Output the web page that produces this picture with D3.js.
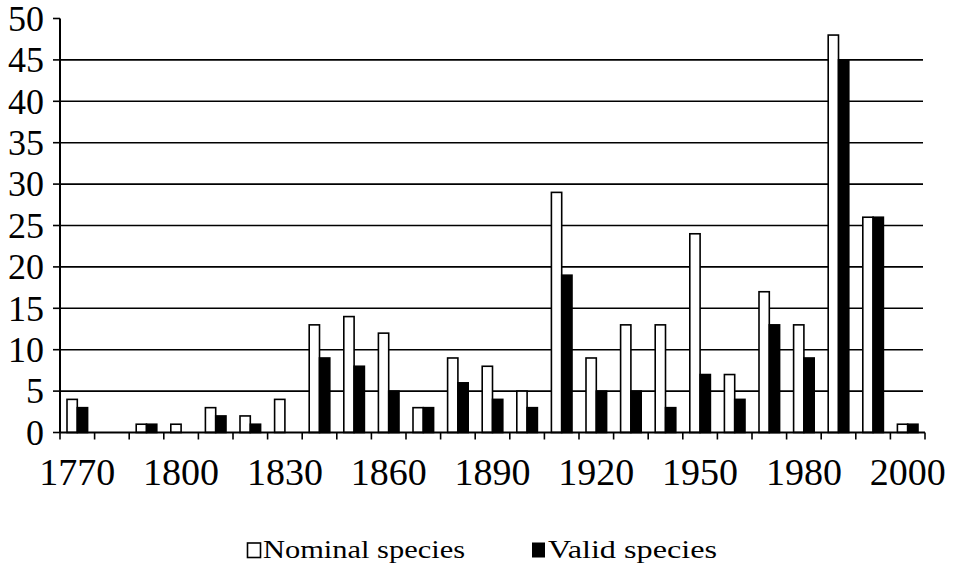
<!DOCTYPE html>
<html><head><meta charset="utf-8"><script src="https://cdn.jsdelivr.net/npm/d3@7"></script></head>
<body style="margin:0">
<svg id="s" width="955" height="569"></svg>
<script>
const categories = ["1770","1780","1790","1800","1810","1820","1830","1840","1850","1860","1870","1880","1890","1900","1910","1920","1930","1940","1950","1960","1970","1980","1990","1995","2000"];
const nominal = [4,0,1,1,3,2,4,13,14,12,3,9,8,5,29,9,13,13,24,7,17,13,48,26,1];
const valid   = [3,0,1,0,2,1,0,9,8,5,3,6,4,3,19,5,5,3,7,4,13,9,45,26,1];
const yTicks = [0,5,10,15,20,25,30,35,40,45,50];
const shownLabels = ["1770","1800","1830","1860","1890","1920","1950","1980","2000"];
const seriesNames = ["Nominal species","Valid species"];

(function () {
const FONT = "Liberation Serif";
const svg = d3.select("#s");
const pLeft = 60, pRight = 925, pTop = 18.5, pBottom = 432.5;

const y = d3.scaleLinear().domain([0, 50]).range([pBottom, pTop]);
const x0 = d3.scaleBand().domain(categories).range([pLeft, pRight]).padding(0);
const x1 = d3.scaleBand().domain(["nominal","valid"]).range([0, x0.bandwidth()]).paddingInner(0).paddingOuter(0.68);

// gridlines
svg.append("g").selectAll("line")
  .data(yTicks.filter(d => d > 0 && d < 50))
  .join("line")
  .attr("x1", pLeft).attr("x2", pRight - 2)
  .attr("y1", d => y(d)).attr("y2", d => y(d))
  .attr("stroke", "#000").attr("stroke-width", 1.6);

// bars
const groups = svg.append("g").selectAll("g")
  .data(categories.map((c, i) => ({c, n: nominal[i], v: valid[i]})))
  .join("g")
  .attr("transform", d => `translate(${x0(d.c)},0)`);

groups.filter(d => d.n > 0).append("rect")
  .attr("x", x1("nominal")).attr("width", x1.bandwidth())
  .attr("y", d => y(d.n)).attr("height", d => y(0) - y(d.n))
  .attr("fill", "#fff").attr("stroke", "#000").attr("stroke-width", 1.6);

groups.filter(d => d.v > 0).append("rect")
  .attr("x", x1("valid")).attr("width", x1.bandwidth())
  .attr("y", d => y(d.v)).attr("height", d => y(0) - y(d.v))
  .attr("fill", "#000").attr("stroke", "#000").attr("stroke-width", 1.6);

// y axis line and ticks
svg.append("line").attr("x1", pLeft).attr("x2", pLeft).attr("y1", pTop).attr("y2", pBottom)
  .attr("stroke", "#000").attr("stroke-width", 2);
svg.append("g").selectAll("line").data(yTicks).join("line")
  .attr("x1", pLeft - 7).attr("x2", pLeft).attr("y1", d => y(d)).attr("y2", d => y(d))
  .attr("stroke", "#000").attr("stroke-width", 1.6);
svg.append("g").selectAll("text").data(yTicks).join("text")
  .attr("x", pLeft - 16).attr("y", d => y(d)).attr("dy", "0.34em")
  .attr("text-anchor", "end").attr("font-size", 36)
  .style("font-family", FONT)
  .text(d => d3.format("d")(d));

// x axis
svg.append("line").attr("x1", pLeft).attr("x2", pRight).attr("y1", pBottom).attr("y2", pBottom)
  .attr("stroke", "#000").attr("stroke-width", 2);
const boundaries = categories.map(c => x0(c)).concat([x0(categories[categories.length - 1]) + x0.bandwidth()]);
svg.append("g").selectAll("line").data(boundaries).join("line")
  .attr("x1", d => d).attr("x2", d => d).attr("y1", pBottom).attr("y2", pBottom + 7)
  .attr("stroke", "#000").attr("stroke-width", 1.6);
svg.append("g").selectAll("text").data(categories.filter(c => shownLabels.includes(c))).join("text")
  .attr("x", d => x0(d) + x0.bandwidth() / 2).attr("y", 485)
  .attr("text-anchor", "middle").attr("font-size", 38)
  .style("font-family", FONT)
  .text(d => d);

// legend
svg.append("rect").attr("x", 247.5).attr("y", 543).attr("width", 13).attr("height", 14.5)
  .attr("fill", "#fff").attr("stroke", "#000").attr("stroke-width", 1.6);
svg.append("text").attr("x", 263).attr("y", 557.5).attr("font-size", 25)
  .style("font-family", FONT)
  .attr("textLength", 202).attr("lengthAdjust", "spacingAndGlyphs")
  .text(seriesNames[0]);
svg.append("rect").attr("x", 532).attr("y", 542.5).attr("width", 13).attr("height", 15)
  .attr("fill", "#000");
svg.append("text").attr("x", 548).attr("y", 557.5).attr("font-size", 25)
  .style("font-family", FONT)
  .attr("textLength", 169).attr("lengthAdjust", "spacingAndGlyphs")
  .text(seriesNames[1]);
})();
</script>
</body></html>
